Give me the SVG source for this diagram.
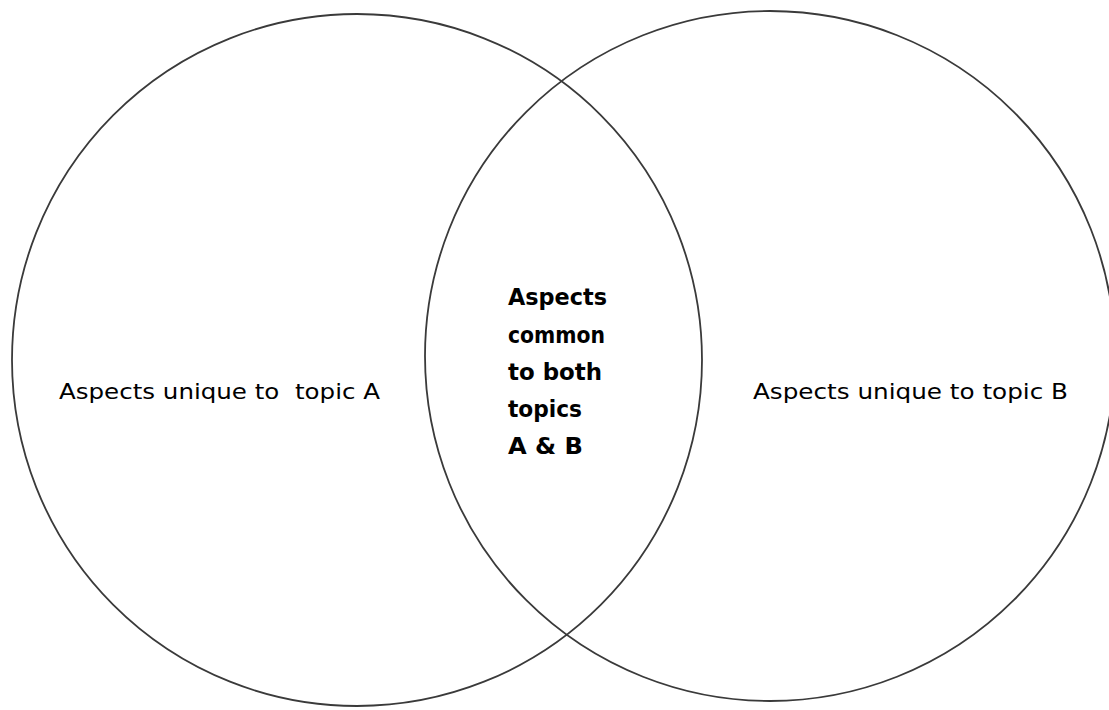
<svg xmlns="http://www.w3.org/2000/svg" width="1109" height="710" viewBox="0 0 1109 710">
<style>
.ring{fill:none;stroke:#3a3a3a;stroke-width:1.8}
.lbl{font-family:"DejaVu Sans","Liberation Sans",sans-serif;font-size:22px;fill:#000}
.mid{font-family:"DejaVu Sans","Liberation Sans",sans-serif;font-size:23px;font-weight:bold;fill:#000}
</style>
<rect width="1109" height="710" fill="#fff"/>
<g id="topicA">
<ellipse class="ring" cx="357" cy="360" rx="345" ry="346"/>
<text class="lbl" x="59" y="399" textLength="321" lengthAdjust="spacingAndGlyphs" xml:space="preserve">Aspects unique to  topic A</text>
</g>
<g id="topicB">
<ellipse class="ring" cx="770" cy="356" rx="345" ry="345"/>
<text class="lbl" x="753" y="399" textLength="315" lengthAdjust="spacingAndGlyphs">Aspects unique to topic B</text>
</g>
<g id="common">
<text class="mid" x="508" y="305" textLength="99" lengthAdjust="spacingAndGlyphs">Aspects</text>
<text class="mid" x="508" y="343" textLength="97" lengthAdjust="spacingAndGlyphs">common</text>
<text class="mid" x="508" y="380" textLength="94" lengthAdjust="spacingAndGlyphs">to both</text>
<text class="mid" x="508" y="417" textLength="74" lengthAdjust="spacingAndGlyphs">topics</text>
<text class="mid" x="508" y="454" textLength="75" lengthAdjust="spacingAndGlyphs">A &amp; B</text>
</g>
<g id="connectors"/>
</svg>
